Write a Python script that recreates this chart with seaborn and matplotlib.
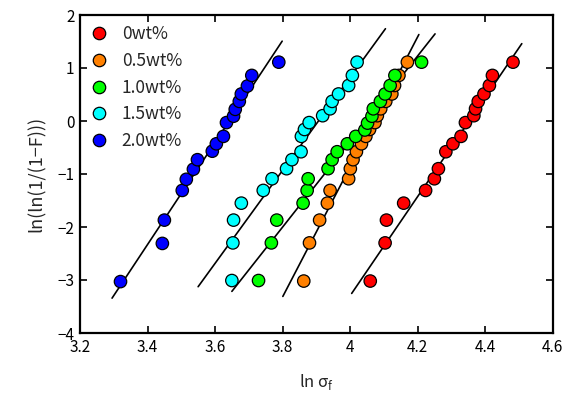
import numpy as np
import pandas as pd
import matplotlib
matplotlib.use("Agg")
import matplotlib.pyplot as plt
import seaborn as sns

# ---------------- data ----------------
series_labels = ["0wt%", "0.5wt%", "1.0wt%", "1.5wt%", "2.0wt%"]
series_colors = ["#FF0000", "#FF8000", "#00FF00", "#00FFFF", "#0000FF"]

x_0wt = [4.060, 4.104, 4.108, 4.159, 4.224, 4.250, 4.262, 4.284, 4.305, 4.329,
         4.342, 4.367, 4.372, 4.380, 4.397, 4.413, 4.422, 4.483]
y_0wt = [-3.02, -2.30, -1.87, -1.55, -1.31, -1.09, -0.90, -0.58, -0.43, -0.29,
         -0.03, 0.10, 0.23, 0.37, 0.51, 0.67, 0.86, 1.11]

x_05wt = [3.863, 3.880, 3.910, 3.933, 3.941, 3.996, 4.001, 4.009, 4.019, 4.034,
          4.047, 4.058, 4.074, 4.081, 4.091, 4.106, 4.124, 4.132, 4.145, 4.170]
y_05wt = [-3.02, -2.30, -1.87, -1.55, -1.31, -1.09, -0.90, -0.73, -0.58, -0.43,
          -0.29, -0.16, -0.03, 0.10, 0.23, 0.37, 0.51, 0.67, 0.86, 1.11]

x_10wt = [3.729, 3.767, 3.783, 3.861, 3.873, 3.876, 3.935, 3.947, 3.962, 3.992,
          4.017, 4.044, 4.052, 4.065, 4.069, 4.090, 4.104, 4.119, 4.133, 4.212]
y_10wt = [-3.01, -2.30, -1.87, -1.55, -1.31, -1.09, -0.90, -0.73, -0.58, -0.43,
          -0.29, -0.17, -0.04, 0.09, 0.23, 0.37, 0.51, 0.67, 0.86, 1.11]

x_15wt = [3.650, 3.653, 3.655, 3.678, 3.743, 3.769, 3.812, 3.828, 3.855, 3.856,
          3.865, 3.879, 3.919, 3.941, 3.947, 3.966, 3.996, 4.007, 4.021]
y_15wt = [-3.01, -2.30, -1.87, -1.55, -1.31, -1.09, -0.90, -0.73, -0.58, -0.29,
          -0.16, -0.03, 0.10, 0.23, 0.37, 0.51, 0.67, 0.86, 1.11]

x_20wt = [3.320, 3.444, 3.450, 3.503, 3.515, 3.536, 3.548, 3.592, 3.604, 3.625,
          3.634, 3.655, 3.660, 3.672, 3.678, 3.696, 3.709, 3.789]
y_20wt = [-3.03, -2.31, -1.87, -1.31, -1.10, -0.91, -0.73, -0.57, -0.43, -0.29,
          -0.03, 0.09, 0.22, 0.37, 0.51, 0.66, 0.86, 1.11]

# Weibull fit lines: y = slope * x + intercept, drawn over [fit_x_start, fit_x_end]
fit_slope = [9.35, 12.26, 8.07, 8.77, 9.62]
fit_intercept = [-40.70, -49.91, -32.67, -34.26, -35.04]
fit_x_start = [4.005, 3.801, 3.650, 3.550, 3.295]
fit_x_end = [4.509, 4.204, 4.252, 4.105, 3.799]

x_ticks = [3.2, 3.4, 3.6, 3.8, 4.0, 4.2, 4.4, 4.6]
x_tick_labels = ["3.2", "3.4", "3.6", "3.8", "4", "4.2", "4.4", "4.6"]
y_ticks = [-4, -3, -2, -1, 0, 1, 2]
y_tick_labels = ["−4", "−3", "−2", "−1", "0", "1", "2"]

# ---------------- frames ----------------
xs = [x_0wt, x_05wt, x_10wt, x_15wt, x_20wt]
ys = [y_0wt, y_05wt, y_10wt, y_15wt, y_20wt]
points = pd.concat(
    [pd.DataFrame({"x": xv, "y": yv, "group": lab}) for xv, yv, lab in zip(xs, ys, series_labels)],
    ignore_index=True)

lines = []
for lab, m, b, x0, x1 in zip(series_labels, fit_slope, fit_intercept, fit_x_start, fit_x_end):
    xx = np.array([x0, x1])
    lines.append(pd.DataFrame({"x": xx, "y": m * xx + b, "group": lab}))
lines = pd.concat(lines, ignore_index=True)

# ---------------- style ----------------
sns.set_style("ticks")
plt.rcParams["font.family"] = ["Noto Sans CJK JP", "DejaVu Sans"]
plt.rcParams["mathtext.fontset"] = "custom"
plt.rcParams["mathtext.rm"] = "Noto Sans CJK JP"
plt.rcParams["axes.unicode_minus"] = True

fig = plt.figure(figsize=(5.69, 3.99), dpi=100)
ax = fig.add_axes([80 / 569, 1 - 333 / 399, (552.5 - 80) / 569, (333 - 15) / 399])

pal = dict(zip(series_labels, series_colors))
for lab in series_labels:
    sns.lineplot(data=lines[lines.group == lab], x="x", y="y", color="black",
                 linewidth=1.2, ax=ax, legend=False, zorder=2)

sns.scatterplot(data=points, x="x", y="y", hue="group", hue_order=series_labels,
                palette=pal, s=80, edgecolor="black", linewidth=0.9, ax=ax, zorder=3)

ax.set_xlim(3.2, 4.6)
ax.set_ylim(-4, 2)
ax.set_xticks(x_ticks)
ax.set_xticklabels(x_tick_labels)
ax.set_yticks(y_ticks)
ax.set_yticklabels(y_tick_labels)
ax.tick_params(direction="in", length=5, width=1.2, top=True, right=True,
               labelsize=11, colors="black", pad=4)
for sp in ax.spines.values():
    sp.set_linewidth(1.6)
    sp.set_color("black")

ax.set_xlabel("ln σ$_{\\mathrm{f}}$", fontsize=12, labelpad=12)
ax.set_ylabel("ln(ln(1/(1−F)))", fontsize=13, labelpad=8)

leg = ax.legend(loc="upper left", frameon=False, fontsize=12.5, handlelength=1.0,
                handletextpad=0.8, labelspacing=0.5, borderaxespad=0.2,
                markerscale=1.0)
for h in leg.legend_handles:
    try:
        h.set_markeredgecolor("black")
    except AttributeError:
        h.set_edgecolor("black")

fig.savefig("out.png", dpi=100)
